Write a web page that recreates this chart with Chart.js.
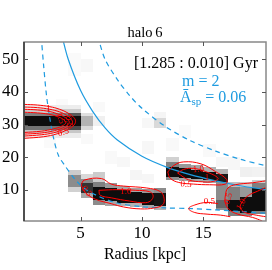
<!DOCTYPE html>
<html>
<head>
<meta charset="utf-8">
<script src="https://cdn.jsdelivr.net/npm/chart.js@4.4.1/dist/chart.umd.min.js"></script>
<style>
html, body { margin: 0; padding: 0; background: #fff; }
canvas { display: block; }
</style>
</head>
<body>
<canvas id="grafico" width="272" height="270"></canvas>
<script>
const xTicks = [5, 10, 15];
const yTicks = [10, 20, 30, 40, 50];
const xRange = [0.4, 20.1];
const yRange = [0.5, 55.3];

// celulas do mapa: [x0, x1, y0, y1, intensidade]
const heatCells = [
    [5, 6, 46, 50, 0.03], [4, 5, 45, 52, 0.02], [11, 12, 29, 32, 0.15], [11, 12, 32, 34, 0.04],
    [10, 11, 29, 32, 0.03], [7, 8, 18, 22, 0.025], [8, 9, 17, 20, 0.03], [9, 10, 13, 16, 0.04],
    [10, 11, 12, 15, 0.035], [12, 13, 22, 26, 0.025], [15, 16, 20, 24, 0.025], [17, 18, 16, 20, 0.03],
    [18, 19, 14, 17, 0.06], [16, 17, 17, 20, 0.03], [13, 14, 26, 30, 0.02], [6, 7, 34, 37, 0.025],
    [3, 4, 35, 38, 0.02], [2, 3, 23, 26, 0.02], [5, 6, 24, 27, 0.025], [19, 20.1, 14, 17, 0.05],
    [10, 11, 21, 25, 0.03],
    // banda em ~31
    [0.4, 5, 26, 27.3, 0.08], [0.4, 5, 34.8, 36, 0.07],
    [0.4, 5, 27.3, 28.5, 0.22], [0.4, 5, 33.5, 34.8, 0.2],
    [0.4, 5, 28.5, 29.5, 0.55], [0.4, 5, 32.5, 33.5, 0.5],
    [4, 5, 28.5, 29.5, 0.7], [4, 5, 32.5, 33.5, 0.65],
    [0.4, 5, 29.5, 32.5, 0.95],
    [5, 6, 29.5, 32.5, 0.3], [5, 6, 28.5, 29.5, 0.15], [5, 6, 32.5, 33.5, 0.12],
    [6, 7, 29.5, 32.5, 0.06],
    // banda 5-12
    [4, 5, 11, 14.5, 0.45], [4, 5, 14.5, 16, 0.2], [4, 5, 9.5, 11, 0.18],
    [5, 6, 9, 12, 0.8], [5, 6, 12, 13.5, 0.45], [5, 6, 7.5, 9, 0.35], [5, 6, 13.5, 15, 0.15],
    [6, 7, 7, 11, 0.95], [6, 7, 11, 12.5, 0.5], [6, 7, 5.5, 7, 0.45], [6, 7, 12.5, 15.5, 0.2],
    [7, 8, 6.5, 10.5, 0.95], [7, 8, 10.5, 12, 0.4], [7, 8, 5, 6.5, 0.35],
    [8, 9, 6, 10, 0.95], [8, 9, 10, 11.2, 0.35], [8, 9, 5, 6, 0.3],
    [9, 10, 6, 9.5, 0.95], [9, 10, 9.5, 10.5, 0.35], [9, 10, 4.8, 6, 0.3],
    [10, 11, 5.5, 9, 0.95], [10, 11, 9, 10.2, 0.4], [10, 11, 4.5, 5.5, 0.35],
    [11, 12, 5, 9, 0.92], [11, 12, 9, 10.5, 0.45], [11, 12, 4, 5, 0.3],
    // banda 12-17
    [12, 13, 14, 17, 0.95], [12, 13, 17, 18.5, 0.5], [12, 13, 13, 14, 0.45], [12, 13, 18.5, 20, 0.18],
    [13, 14, 13.8, 16.8, 0.95], [13, 14, 16.8, 18, 0.4], [13, 14, 12.8, 13.8, 0.35],
    [14, 15, 13.5, 16, 0.95], [14, 15, 16, 17.5, 0.35], [14, 15, 12.5, 13.5, 0.35],
    [15, 16, 13, 15.5, 0.95], [15, 16, 15.5, 17, 0.3], [15, 16, 12, 13, 0.35],
    [16, 17, 4, 12.5, 0.45], [16, 17, 4.5, 7, 0.6],
    [16, 17, 12.5, 15, 0.9], [16, 17, 15, 16.5, 0.3],
    // banda 17-20
    [17, 18, 7, 11, 0.5], [17, 18, 3.5, 7, 0.95], [17, 18, 2, 3.5, 0.5], [17, 18, 11, 12.5, 0.25],
    [18, 19, 8, 11, 0.4], [18, 19, 3, 8, 0.95], [18, 19, 2, 3, 0.45], [18, 19, 11, 12.5, 0.2],
    [19, 20.1, 3.5, 10.5, 0.95], [19, 20.1, 10.5, 12, 0.5], [19, 20.1, 2.5, 3.5, 0.5], [19, 20.1, 12, 13, 0.2]
];

// curvas azuis
const curveOmega = [[3.5, 57], [4, 50], [5, 40.5], [6, 34], [7, 29], [8, 25.3], [10, 20.3], [12, 17], [14, 14.6], [16, 12.8], [18, 11.3], [20.1, 10.1]];
const curveOuter = [[6.4, 57], [7, 50], [8, 43.8], [9, 38.9], [10, 35], [12, 29.2], [14, 25], [16, 21.9], [18, 19.4], [20.1, 17.4]];
const curveInner = [[1.8, 57], [2.0, 48], [2.23, 39], [2.5, 32], [2.8, 26], [3.2, 20.6], [3.7, 17.6], [4.5, 13.5], [5.3, 10.5], [6.5, 8], [8, 6], [10, 4.9], [12, 4.5], [14, 4.3], [16, 3.9], [18, 3.4], [20.1, 2.9]];

// contornos vermelhos
const contours = [
    [[0.4, 36.2], [1.5, 36.0], [2.5, 35.5], [3.3, 34.7], [4.0, 33.5], [4.45, 32.2], [4.6, 31], [4.4, 29.6], [3.9, 28.4], [3.1, 27.2], [2.0, 26.3], [0.4, 25.8]],
    [[0.4, 35.4], [1.5, 35.2], [2.5, 34.7], [3.3, 33.9], [3.9, 32.8], [4.25, 31.6], [4.35, 30.6], [4.1, 29.5], [3.6, 28.5], [2.8, 27.5], [1.8, 26.9], [0.4, 26.5]],
    [[0.4, 34.7], [1.5, 34.5], [2.5, 34.0], [3.2, 33.2], [3.75, 32.2], [4.05, 31.2], [4.05, 30.3], [3.7, 29.3], [3.1, 28.4], [2.3, 27.7], [1.4, 27.3], [0.4, 27.1]],
    [[0.4, 33.8], [1.5, 33.6], [2.4, 33.2], [3.1, 32.5], [3.6, 31.6], [3.8, 30.6], [3.5, 29.6], [2.8, 28.7], [1.8, 28.0], [0.4, 27.6]],
    [[5.05, 11.5], [5.3, 13], [6.7, 13.5], [7.5, 11.8], [8.5, 11.2], [10.4, 10.6], [11.5, 9.5], [11.8, 7.5], [11.7, 5.5], [11, 4.5], [9.9, 4.2], [8.5, 4.8], [7.5, 5.8], [6.2, 7.2], [5.4, 9.2], [5.05, 11.5]],
    [[6.5, 9.9], [8, 10.1], [9.5, 9.9], [10.6, 9.5], [10.9, 8.5], [10.8, 7], [10.3, 6.1], [9, 6.6], [7.5, 7.6], [6.6, 8.4], [6.5, 9.9]],
    [[12.1, 15.5], [12.6, 17.5], [13.4, 18.6], [14.8, 18], [16.0, 15.6], [16.9, 13.2], [16.8, 11.8], [15.5, 11.6], [14.2, 11.8], [13.0, 12.3], [12.3, 13.6], [12.1, 15.5]],
    [[12.9, 15.2], [13.4, 16.3], [14.2, 16.6], [15.2, 15.6], [16.2, 13.6], [15.8, 12.6], [14.9, 12.5], [13.8, 13.1], [12.9, 15.2]],
    [[16.2, 5.8], [15.3, 6.2], [14.3, 5.4], [13.8, 4.3], [14.3, 3.1], [15.3, 2.6], [16.4, 2.3], [17.2, 1.8]],
    [[20.1, 12.8], [19, 12.2], [17.6, 11.6], [17.0, 10.6], [16.8, 8.5], [16.8, 6], [17.1, 4], [17.8, 2.6], [19, 1.6], [19.8, 0.5]],
    [[20.1, 10.8], [19.4, 9.6], [18.7, 8.4], [18.2, 6.5], [18.0, 4.6], [18.4, 3.1], [19.3, 2.3], [20.1, 1.8]]
];

// rotulos dos contornos: [texto, x, y, angulo]
const contourLabels = [
    ['1', 2.4, 34.9, 0], ['1.5', 3.35, 32, 70], ['0.5', 4.05, 31, 80], ['0.5', 3.6, 27.6, -20],
    ['0.5', 5.5, 9.6, 50], ['1.0', 8.7, 9.4, 0],
    ['1.0', 14.6, 16.3, -5], ['1', 15.3, 13.9, 0], ['0.5', 13.6, 11.7, 5],
    ['0.5', 15.5, 6.4, 0], ['0.5', 17.05, 7.4, -75], ['1.0', 18.1, 5.6, -60]
];

const serif = "'Liberation Serif', 'DejaVu Serif', serif";
const azul = '#1e9be0';
const semBorda = { left: 0, top: 0, right: 0, bottom: 0 };

const heatPlugin = {
    id: 'heat',
    beforeDatasetsDraw(chart) {
        const { ctx, chartArea, scales: { x, y } } = chart;
        ctx.save();
        ctx.beginPath();
        ctx.rect(chartArea.left, chartArea.top, chartArea.width, chartArea.height);
        ctx.clip();
        heatCells.forEach(([x0, x1, y0, y1, v]) => {
            const g = Math.round(255 * (1 - v));
            ctx.fillStyle = `rgb(${g},${g},${g})`;
            const px0 = Math.round(x.getPixelForValue(x0));
            const px1 = Math.round(x.getPixelForValue(x1));
            const py0 = Math.round(y.getPixelForValue(y0));
            const py1 = Math.round(y.getPixelForValue(y1));
            ctx.fillRect(px0, py1, px1 - px0, py0 - py1);
        });
        ctx.restore();
    }
};

const framePlugin = {
    id: 'frame',
    afterDraw(chart) {
        const { ctx, chartArea: a, scales: { x, y } } = chart;
        ctx.save();

        // rotulos dos contornos
        ctx.fillStyle = 'red';
        ctx.font = "9px " + serif;
        ctx.textAlign = 'center';
        ctx.textBaseline = 'middle';
        contourLabels.forEach(([t, lx, ly, ang]) => {
            ctx.save();
            ctx.translate(x.getPixelForValue(lx), y.getPixelForValue(ly));
            ctx.rotate(ang * Math.PI / 180);
            ctx.fillText(t, 0, 0);
            ctx.restore();
        });

        // moldura
        ctx.lineWidth = 1.5;
        ctx.strokeStyle = '#888';
        ctx.strokeRect(a.left, a.top, a.right - a.left, a.bottom - a.top);
        ctx.strokeStyle = '#333';
        ctx.beginPath();
        ctx.moveTo(a.left, a.top);
        ctx.lineTo(a.left, a.bottom);
        ctx.stroke();

        // ticks para dentro
        ctx.lineWidth = 1;
        ctx.strokeStyle = '#555';
        ctx.beginPath();
        xTicks.forEach(v => {
            const px = Math.round(x.getPixelForValue(v)) + 0.5;
            ctx.moveTo(px, a.bottom); ctx.lineTo(px, a.bottom - 4);
            ctx.moveTo(px, a.top); ctx.lineTo(px, a.top + 4);
        });
        yTicks.forEach(v => {
            const py = Math.round(y.getPixelForValue(v)) + 0.5;
            ctx.moveTo(a.left, py); ctx.lineTo(a.left + 4, py);
            ctx.moveTo(a.right, py); ctx.lineTo(a.right - 4, py);
        });
        ctx.stroke();

        // titulo
        ctx.fillStyle = '#000';
        ctx.font = "14.5px " + serif;
        ctx.textAlign = 'center';
        ctx.fillText('halo\u20096', (a.left + a.right) / 2, 33);

        // anotacoes
        ctx.font = "16px " + serif;
        ctx.textAlign = 'right';
        ctx.fillText('[1.285 : 0.010] Gyr', a.right - 8, 64);

        ctx.fillStyle = azul;
        ctx.textAlign = 'left';
        ctx.fillText('m = 2', 182, 82);

        let px = 180;
        ctx.fillText('\u0100', px, 98);
        px += ctx.measureText('\u0100').width;
        ctx.font = "11px " + serif;
        ctx.fillText('sp', px, 102);
        px += ctx.measureText('sp').width;
        ctx.font = "16px " + serif;
        ctx.fillText(' = 0.06', px, 98);

        ctx.restore();
    }
};

const toPts = arr => arr.map(([px, py]) => ({ x: px, y: py }));

const datasets = [];
contours.forEach(c => {
    datasets.push({
        data: toPts(c), showLine: true, pointRadius: 0, borderColor: 'red',
        borderWidth: 1, tension: 0.4, fill: false, clip: semBorda
    });
});
datasets.push({ data: toPts(curveOmega), showLine: true, pointRadius: 0, borderColor: azul, borderWidth: 1.2, tension: 0.3, clip: semBorda });
datasets.push({ data: toPts(curveOuter), showLine: true, pointRadius: 0, borderColor: azul, borderWidth: 1.2, borderDash: [5, 4], tension: 0.3, clip: semBorda });
datasets.push({ data: toPts(curveInner), showLine: true, pointRadius: 0, borderColor: azul, borderWidth: 1.2, borderDash: [5, 4], tension: 0.3, clip: semBorda });

const ctx = document.getElementById('grafico').getContext('2d');
new Chart(ctx, {
    type: 'scatter',
    data: { datasets: datasets },
    options: {
        responsive: false,
        animation: false,
        devicePixelRatio: 1,
        layout: { padding: { top: 42, right: 6, left: 0, bottom: 0 } },
        plugins: { legend: { display: false }, tooltip: { enabled: false } },
        scales: {
            x: {
                type: 'linear', min: xRange[0], max: xRange[1],
                grid: { display: false, drawTicks: false },
                border: { display: false },
                afterBuildTicks: s => { s.ticks = xTicks.map(v => ({ value: v })); },
                afterFit: s => { s.height = 49; },
                ticks: { font: { family: serif, size: 17 }, color: '#000', padding: 2, maxRotation: 0, autoSkip: false },
                title: { display: true, text: 'Radius [kpc]', font: { family: serif, size: 16 }, color: '#000', padding: { top: 0, bottom: 6 } }
            },
            y: {
                type: 'linear', min: yRange[0], max: yRange[1],
                grid: { display: false, drawTicks: false },
                border: { display: false },
                afterBuildTicks: s => { s.ticks = yTicks.map(v => ({ value: v })); },
                afterFit: s => { s.width = 24; },
                ticks: { font: { family: serif, size: 17 }, color: '#000', padding: 5, autoSkip: false }
            }
        }
    },
    plugins: [heatPlugin, framePlugin]
});
</script>
</body>
</html>
